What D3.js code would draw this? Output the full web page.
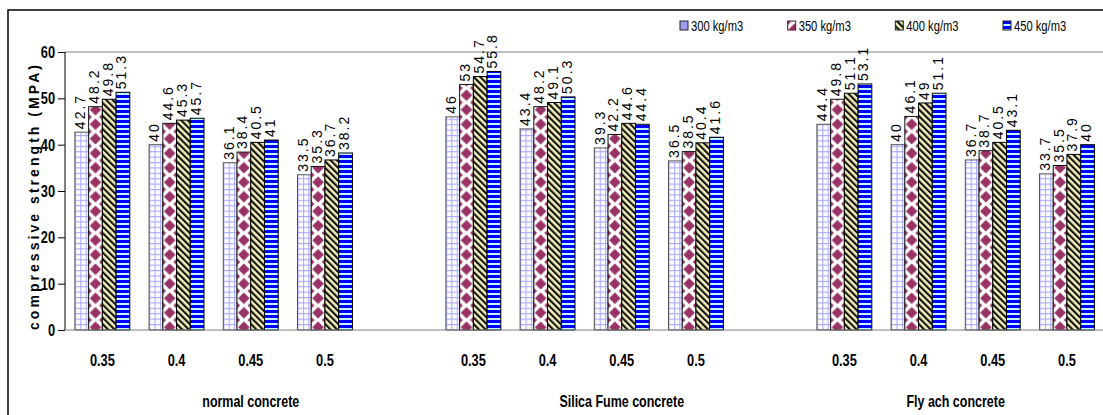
<!DOCTYPE html>
<html><head><meta charset="utf-8">
<script src="https://cdn.jsdelivr.net/npm/d3@7"></script>
<style>body{margin:0;background:#fff}svg{display:block}text{font-family:"Liberation Sans",Arial,sans-serif}</style>
</head><body>
<script>
const groups = ["normal concrete", "Silica Fume concrete", "Fly ach concrete"];
const ratios = ["0.35", "0.4", "0.45", "0.5"];
const seriesNames = ["300 kg/m3", "350 kg/m3", "400 kg/m3", "450 kg/m3"];
// values ordered: group (normal, silica, fly) x ratio (0.35, 0.4, 0.45, 0.5)
const s300 = [42.7, 40, 36.1, 33.5, 46, 43.4, 39.3, 36.5, 44.4, 40, 36.7, 33.7];
const s350 = [48.2, 44.6, 38.4, 35.3, 53, 48.2, 42.2, 38.5, 49.8, 46.1, 38.7, 35.5];
const s400 = [49.8, 45.3, 40.5, 36.7, 54.7, 49.1, 44.6, 40.4, 51.1, 49, 40.5, 37.9];
const s450 = [51.3, 45.7, 41, 38.2, 55.8, 50.3, 44.4, 41.6, 53.1, 51.1, 43.1, 40];
const yTicks = [0, 10, 20, 30, 40, 50, 60];
const yTitle = "compressive strength (MPA)";

const W = 1103, H = 415;
const svg = d3.select("body").append("svg").attr("width", W).attr("height", H);
const defs = svg.append("defs");

// patterns
const gs = 5.4;
const pGrid = defs.append("pattern").attr("id", "p0").attr("patternUnits", "userSpaceOnUse").attr("width", gs).attr("height", gs);
pGrid.append("rect").attr("width", gs).attr("height", gs).attr("fill", "#fff");
pGrid.append("rect").attr("x", 0).attr("y", 0).attr("width", 1.1).attr("height", gs).attr("fill", "#a8a8ff");
pGrid.append("rect").attr("x", 0).attr("y", 0).attr("width", gs).attr("height", 1.1).attr("fill", "#a8a8ff");

const x0 = d3.scaleBand().domain(d3.range(14)).range([65.25, 65.25 + 14 * 74.2]).paddingInner(0.26).paddingOuter(0.13);
const x1 = d3.scaleBand().domain(seriesNames).range([0, x0.bandwidth()]);
const bw = x1.bandwidth();
const y = d3.scaleLinear().domain([0, 60]).range([330, 52]);

const dh = 14.5;
const pDia = defs.append("pattern").attr("id", "p1").attr("patternUnits", "userSpaceOnUse").attr("width", bw).attr("height", dh).attr("y", 1);
pDia.append("rect").attr("width", bw).attr("height", dh).attr("fill", "#fff");
const dia = (cx, cy, r) => `M${cx},${cy - r}L${cx + r},${cy}L${cx},${cy + r}L${cx - r},${cy}Z`;
pDia.append("path").attr("d", dia(bw / 2, dh / 2, 5.8)).attr("fill", "#993366");
[[0, 0], [bw, 0], [0, dh], [bw, dh]].forEach(([cx, cy]) => pDia.append("path").attr("d", dia(cx, cy, 3.2)).attr("fill", "#993366"));

const pHatch = defs.append("pattern").attr("id", "p2").attr("patternUnits", "userSpaceOnUse").attr("width", 4.6).attr("height", 4.6).attr("patternTransform", "rotate(-45)");
pHatch.append("rect").attr("width", 4.6).attr("height", 4.6).attr("fill", "#f2f0b8");
pHatch.append("rect").attr("width", 2.1).attr("height", 4.6).attr("fill", "#111");

const pStripe = defs.append("pattern").attr("id", "p3").attr("patternUnits", "userSpaceOnUse").attr("width", 5).attr("height", 5);
pStripe.append("rect").attr("width", 5).attr("height", 5).attr("fill", "#0000ff");
pStripe.append("rect").attr("y", 3).attr("width", 5).attr("height", 2).attr("fill", "#bff7ff");

const fills = ["url(#p0)", "url(#p1)", "url(#p2)", "url(#p3)"];
const strokes = ["#555", "#111", "#000", "#000"];
const allSeries = [s300, s350, s400, s450];

// outer frame
svg.append("rect").attr("x", 8).attr("y", 10).attr("width", 1200).attr("height", 500)
  .attr("fill", "none").attr("stroke", "#000").attr("stroke-width", 1.5);

// plot top border
svg.append("line").attr("x1", 65).attr("x2", W).attr("y1", y(60)).attr("y2", y(60)).attr("stroke", "#808080").attr("stroke-width", 1);

// data
const data = [];
groups.forEach((g, gi) => ratios.forEach((r, ri) => {
  const idx = gi * 4 + ri;
  seriesNames.forEach((s, si) => data.push({ slot: gi * 5 + ri, s, si, v: allSeries[si][idx] }));
}));

const bars = svg.append("g").selectAll("g").data(data).join("g")
  .attr("transform", d => `translate(${x0(d.slot) + x1(d.s)},0)`);
bars.append("rect").attr("x", 0).attr("y", d => y(d.v)).attr("width", bw).attr("height", d => y(0) - y(d.v))
  .attr("fill", d => fills[d.si]).attr("stroke", d => strokes[d.si]).attr("stroke-width", 1);

// data labels
svg.append("g").selectAll("text").data(data).join("text")
  .attr("transform", d => `translate(${x0(d.slot) + x1(d.s) + bw / 2 + 3.5},${y(d.v) - 3}) rotate(-90)`)
  .attr("font-size", 14).attr("letter-spacing", "2px").attr("fill", "#000")
  .text(d => String(d.v));

// y axis
const yAxis = svg.append("g").attr("transform", "translate(65,0)")
  .call(d3.axisLeft(y).tickValues(yTicks).tickSize(7).tickFormat(d3.format("d")));
yAxis.select(".domain").attr("stroke", "#000").attr("d", `M0,${y(60)}V${y(0)}`);
yAxis.selectAll(".tick line").attr("stroke", "#000");
yAxis.selectAll(".tick text").attr("font-size", 16).attr("font-weight", "bold").attr("fill", "#000")
  .attr("font-family", '"Liberation Sans",Arial,sans-serif')
  .attr("x", 0).attr("dy", "0.35em")
  .attr("transform", "translate(-10,0) scale(0.8,1)");

// x axis line
svg.append("line").attr("x1", 65).attr("x2", W).attr("y1", y(0)).attr("y2", y(0)).attr("stroke", "#808080").attr("stroke-width", 1.2);

// category labels
const catData = [];
groups.forEach((g, gi) => ratios.forEach((r, ri) => catData.push({ slot: gi * 5 + ri, r })));
svg.append("g").selectAll("text").data(catData).join("text")
  .attr("transform", d => `translate(${x0(d.slot) + x0.bandwidth() / 2},366) scale(0.8,1)`)
  .attr("text-anchor", "middle").attr("font-size", 16).attr("font-weight", "bold").text(d => d.r);

// group labels
const groupSlots = [[0, 4], [5, 9], [10, 13]];
svg.append("g").selectAll("text").data(groups).join("text")
  .attr("transform", (g, gi) => {
    const [a, b] = groupSlots[gi];
    const cx = (x0(a) + x0(b) + x0.bandwidth()) / 2;
    return `translate(${cx},407) scale(0.78,1)`;
  })
  .attr("text-anchor", "middle").attr("font-size", 16).attr("font-weight", "bold").text(g => g);

// y title
svg.append("text").attr("transform", `translate(38.5,${(65 + 330) / 2}) rotate(-90)`)
  .attr("text-anchor", "middle").attr("font-size", 14).attr("font-weight", "bold")
  .attr("textLength", 265).attr("lengthAdjust", "spacing").text(yTitle);

// legend
const lx = d3.scalePoint().domain(seriesNames).range([680, 1003]);
const leg = svg.append("g").selectAll("g").data(seriesNames).join("g")
  .attr("transform", d => `translate(${lx(d)},21)`);
leg.append("rect").attr("width", 8).attr("height", 9).attr("fill", (d, i) => i === 0 ? "#9c9cf0" : fills[i])
  .attr("stroke", (d, i) => i === 1 ? "#551133" : "#222").attr("stroke-width", 1);
leg.append("text").attr("transform", "translate(11,9.5) scale(0.8,1)").attr("font-size", 14).text(d => d);
</script>
</body></html>
